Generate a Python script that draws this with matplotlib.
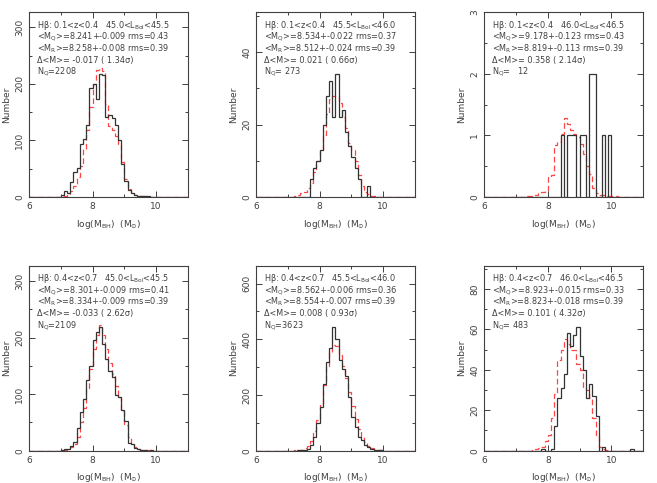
import numpy as np
import matplotlib.pyplot as plt
from matplotlib.ticker import MultipleLocator

plt.rcParams['font.family'] = 'DejaVu Sans'
plt.rcParams['mathtext.fontset'] = 'dejavusans'

# === DATI: conteggi per bin di 0.1 dex tra 6 e 11 ===
edges = np.round(np.arange(6.0, 11.0001, 0.1), 1)

# pannello 1: 0.1<z<0.4, 45.0<Lbol<45.5
q1_lo = 7.0
q1 = [3, 10, 7, 27, 44, 51, 93, 103, 127, 192, 200, 173, 218, 216, 142, 145, 140,
      128, 100, 58, 28, 12, 7, 3, 1, 1, 1, 1]
r1_lo = 7.0
r1 = [1, 2, 4, 10, 20, 35, 55, 85, 118, 160, 200, 225, 228, 222, 165, 125, 118,
      108, 92, 62, 32, 15, 7, 3, 2, 1, 1]

# pannello 2: 0.1<z<0.4, 45.5<Lbol<46.0
q2_lo = 7.7
q2 = [5, 8, 10, 13, 20, 28, 32, 22, 34, 22, 24, 18, 14, 11, 8, 5, 0, 0, 3]
r2_lo = 7.2
r2 = [0.3, 0.5, 1, 1.5, 2.5, 4, 7, 10, 13, 17, 23, 27, 28, 28, 26, 22, 19, 15,
      13, 10, 6, 3, 1.5, 0.8, 0.4, 0.2]

# pannello 3: 0.1<z<0.4, 46.0<Lbol<46.5
q3_lo = 8.4
q3 = [1, 0, 1, 1, 1, 0, 1, 1, 0, 2, 2, 0, 0, 1, 0, 1]
r3_lo = 7.3
r3 = [0.01, 0.02, 0.02, 0.03, 0.06, 0.08, 0.1, 0.32, 0.35, 0.85, 0.9, 1.03, 1.28,
      1.18, 1.08, 1.02, 0.97, 0.86, 0.7, 0.5, 0.38, 0.15, 0.07, 0.04, 0.03, 0.02,
      0.02, 0.01, 0.01]

# pannello 4: 0.4<z<0.7, 45.0<Lbol<45.5
q4_lo = 7.0
q4 = [2, 3, 3, 8, 15, 40, 68, 92, 125, 150, 195, 210, 218, 188, 162, 141, 130, 99,
      95, 72, 52, 13, 12, 4, 3, 1, 1, 0, 1]
r4_lo = 7.0
r4 = [1, 2, 3, 6, 12, 25, 50, 75, 110, 145, 180, 205, 222, 205, 180, 155, 135, 115,
      95, 70, 45, 25, 12, 6, 3, 2, 1, 1, 0.5, 0.3]

# pannello 5: 0.4<z<0.7, 45.5<Lbol<46.0
q5_lo = 7.3
q5 = [1, 2, 3, 5, 20, 50, 98, 157, 240, 318, 369, 443, 400, 324, 294, 270, 193,
      121, 86, 50, 38, 20, 12, 5, 3, 2, 1]
r5_lo = 7.2
r5 = [1, 2, 4, 8, 16, 35, 70, 110, 165, 235, 305, 355, 378, 375, 345, 305, 260,
      210, 160, 115, 78, 50, 30, 16, 8, 4, 2, 1]

# pannello 6: 0.4<z<0.7, 46.0<Lbol<46.5
q6_lo = 7.8
q6 = [1, 0, 0, 1, 12, 26, 31, 38, 58, 52, 57, 61, 47, 40, 26, 33, 27, 17, 0, 2,
      0, 0, 0, 0, 0, 0, 0, 0, 1]
r6_lo = 7.5
r6 = [0.5, 1, 1.5, 2, 5, 8, 16, 28, 45, 50, 55, 53, 50, 50, 43, 40, 31, 30, 26,
      16, 8, 2, 1, 0.5]

testi = [
    ["Hβ: 0.1<z<0.4   45.0<L$_{\\rm Bol}$<45.5", "<M$_{\\rm Q}$>=8.241+-0.009 rms=0.43",
     "<M$_{\\rm R}$>=8.258+-0.008 rms=0.39", "Δ<M>= -0.017 ( 1.34σ)", "N$_{\\rm Q}$=2208"],
    ["Hβ: 0.1<z<0.4   45.5<L$_{\\rm Bol}$<46.0", "<M$_{\\rm Q}$>=8.534+-0.022 rms=0.37",
     "<M$_{\\rm R}$>=8.512+-0.024 rms=0.39", "Δ<M>= 0.021 ( 0.66σ)", "N$_{\\rm Q}$= 273"],
    ["Hβ: 0.1<z<0.4   46.0<L$_{\\rm Bol}$<46.5", "<M$_{\\rm Q}$>=9.178+-0.123 rms=0.43",
     "<M$_{\\rm R}$>=8.819+-0.113 rms=0.39", "Δ<M>= 0.358 ( 2.14σ)", "N$_{\\rm Q}$=   12"],
    ["Hβ: 0.4<z<0.7   45.0<L$_{\\rm Bol}$<45.5", "<M$_{\\rm Q}$>=8.301+-0.009 rms=0.41",
     "<M$_{\\rm R}$>=8.334+-0.009 rms=0.39", "Δ<M>= -0.033 ( 2.62σ)", "N$_{\\rm Q}$=2109"],
    ["Hβ: 0.4<z<0.7   45.5<L$_{\\rm Bol}$<46.0", "<M$_{\\rm Q}$>=8.562+-0.006 rms=0.36",
     "<M$_{\\rm R}$>=8.554+-0.007 rms=0.39", "Δ<M>= 0.008 ( 0.93σ)", "N$_{\\rm Q}$=3623"],
    ["Hβ: 0.4<z<0.7   46.0<L$_{\\rm Bol}$<46.5", "<M$_{\\rm Q}$>=8.923+-0.015 rms=0.33",
     "<M$_{\\rm R}$>=8.823+-0.018 rms=0.39", "Δ<M>= 0.101 ( 4.32σ)", "N$_{\\rm Q}$= 483"],
]

pannelli = [(q1_lo, q1, r1_lo, r1, 100, 50),
            (q2_lo, q2, r2_lo, r2, 20, 10),
            (q3_lo, q3, r3_lo, r3, 1, 0.5),
            (q4_lo, q4, r4_lo, r4, 100, 50),
            (q5_lo, q5, r5_lo, r5, 200, 100),
            (q6_lo, q6, r6_lo, r6, 20, 10)]


def riempi(lo, vals):
    out = np.zeros(len(edges) - 1)
    i = int(round((lo - 6.0) / 0.1))
    out[i:i + len(vals)] = vals
    return out


grigio = '#404040'
fig = plt.figure(figsize=(6.57, 4.83), dpi=100)
lefts = [0.0441, 0.3896, 0.737]
bottoms = [0.592, 0.0669]

for k, (qlo, q, rlo, r, ymaj, ymin) in enumerate(pannelli):
    ax = fig.add_axes([lefts[k % 3], bottoms[k // 3], 0.242, 0.383])
    qq = riempi(qlo, q)
    rr = riempi(rlo, r)
    ax.stairs(rr, edges, color='#ff4444', lw=0.9, ls=(0, (4.5, 2.5)))
    ax.stairs(qq, edges, color='#333333', lw=0.9)
    ax.set_xlim(6, 11)
    ax.set_ylim(0, 1.5 * max(q))
    ax.xaxis.set_major_locator(MultipleLocator(2))
    ax.xaxis.set_minor_locator(MultipleLocator(1))
    ax.yaxis.set_major_locator(MultipleLocator(ymaj))
    ax.yaxis.set_minor_locator(MultipleLocator(ymin))
    ax.tick_params(which='both', direction='in', top=True, right=True,
                   color=grigio, labelcolor=grigio, labelsize=6.5, width=0.7)
    ax.tick_params(which='major', length=4)
    ax.tick_params(which='minor', length=2.5)
    ax.tick_params(axis='y', labelrotation=90)
    for lab in ax.get_yticklabels():
        lab.set_va('center')
    for s in ax.spines.values():
        s.set_color(grigio)
        s.set_linewidth(0.8)
    ax.set_ylabel('Number', fontsize=6.5, color=grigio, labelpad=3)
    ax.set_xlabel('log(M$_{\\rm BH}$)  (M$_{\\odot}$)', fontsize=6.5, color=grigio,
                  labelpad=5)
    for j, t in enumerate(testi[k]):
        ax.text(0.048, 0.93 - j * 0.0635, t, transform=ax.transAxes, fontsize=5.9,
                color=grigio, va='center', ha='left')

plt.savefig('out.png', dpi=100)
